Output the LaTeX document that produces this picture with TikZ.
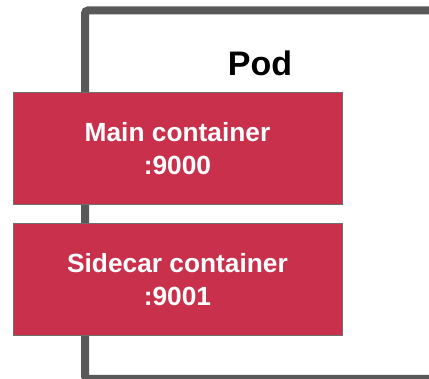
\documentclass[tikz,border=0pt]{standalone}
\usepackage{fontspec}
\setmainfont{Liberation Sans}
\definecolor{podgray}{HTML}{595959}
\definecolor{boxred}{HTML}{C8304B}
\definecolor{edgegray}{HTML}{6E6E6E}
\tikzset{
  podframe/.style={draw=podgray, line width=8pt, rounded corners=3pt},
  podlabel/.style={font=\bfseries\fontsize{34}{40}\selectfont, anchor=base, inner sep=0pt},
  containerbox/.style={draw=edgegray, line width=1pt, fill=boxred, text=white,
    minimum width=329pt, minimum height=112pt, align=center, inner sep=0pt,
    font=\bfseries\fontsize{26.3}{33}\selectfont}
}
\begin{document}
\begin{tikzpicture}[x=1pt,y=-1pt]
  \useasboundingbox (0,0) rectangle (429,379);
  % the pod outline runs past the right and bottom edges
  \begin{scope}
    \clip (0,0) rectangle (429,379);
    \draw[podframe] (85,10.5) rectangle (490,379);
  \end{scope}
  \node[podlabel] (pod) at (260,76) {Pod};
  \node[containerbox] (main) at (177.5,149) {Main container\\:9000};
  \node[containerbox] (sidecar) at (177.5,279.5) {Sidecar container\\:9001};
\end{tikzpicture}
\end{document}
